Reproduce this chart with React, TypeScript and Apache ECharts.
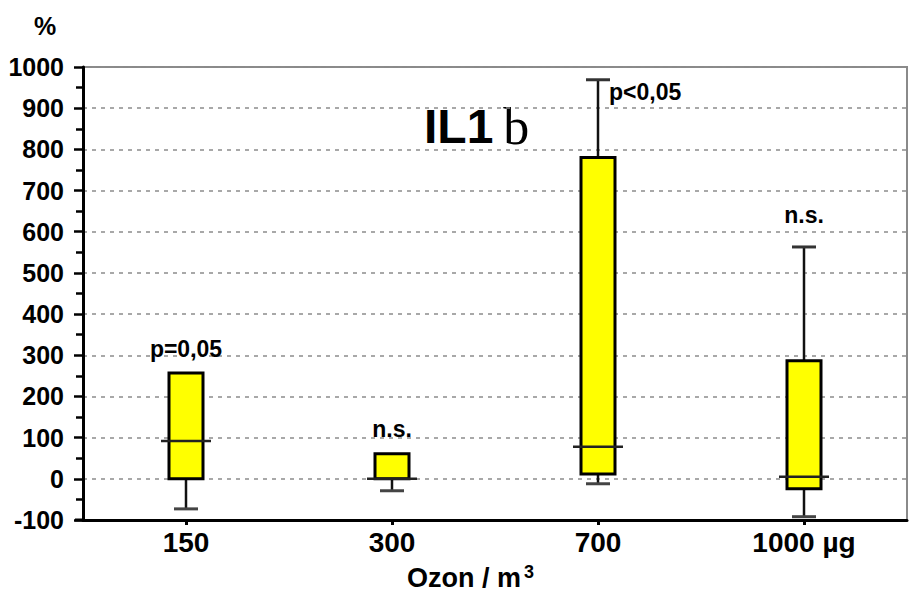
import React, { useEffect, useRef } from "react";
import * as echarts from "echarts";

const categories = ["150", "300", "700", "1000 µg"];
const whiskerLow = [-73, -29, -12, -92];
const boxLow = [0, 0, 12, -24];
const medians = [92, 0, 78, 5];
const boxHigh = [257, 61, 780, 287];
const whiskerHigh = [257, 61, 969, 563];
const annotations = ["p=0,05", "n.s.", "p<0,05", "n.s."];
const annotationY = [315, 120, 940, 640];
const yMin = -100;
const yMax = 1000;
const yStep = 100;

const SANS = "Liberation Sans";
const SERIF = "Liberation Serif";

export default function App() {
  const ref = useRef<HTMLDivElement>(null);
  useEffect(() => {
    if (!ref.current) return;
    const chart = echarts.init(ref.current, undefined, { renderer: "svg" });
    const data = categories.map((_, i) => [
      i,
      whiskerLow[i],
      boxLow[i],
      medians[i],
      boxHigh[i],
      whiskerHigh[i],
      annotationY[i],
    ]);
    chart.setOption({
      animation: false,
      backgroundColor: "#ffffff",
      grid: {
        left: 83,
        right: 2,
        top: 67,
        bottom: 74,
        show: true,
        borderColor: "#8a8a8a",
        borderWidth: 2,
        backgroundColor: "transparent",
      },
      xAxis: {
        type: "category",
        data: categories,
        boundaryGap: true,
        axisLine: { show: true, onZero: false, lineStyle: { color: "#000", width: 3 } },
        axisTick: { show: true, alignWithLabel: true, length: 5, lineStyle: { color: "#000", width: 3 } },
        axisLabel: {
          color: "#000",
          fontFamily: SANS,
          fontWeight: "bold",
          fontSize: 28,
          margin: 8,
        },
        splitLine: { show: false },
      },
      yAxis: {
        type: "value",
        min: yMin,
        max: yMax,
        interval: yStep,
        axisLine: { show: true, lineStyle: { color: "#000", width: 3 } },
        axisTick: { show: true, length: 9, lineStyle: { color: "#000", width: 2.5 } },
        minorTick: { show: true, splitNumber: 2, length: 7, lineStyle: { color: "#000", width: 2.5 } },
        axisLabel: {
          color: "#000",
          fontFamily: SANS,
          fontWeight: "bold",
          fontSize: 25,
          margin: 19,
          formatter: (v: number) => String(v),
        },
        splitLine: {
          show: true,
          lineStyle: { color: "#8c8c8c", width: 1.5, type: [4, 5] },
        },
      },
      series: [
        {
          type: "custom",
          data,
          encode: { x: 0, y: [1, 2, 3, 4, 5] },
          renderItem: (params: any, api: any) => {
            const idx = params.dataIndex;
            const cat = api.value(0);
            const x = api.coord([cat, 0])[0];
            const y = (v: number) => api.coord([cat, v])[1];
            const yWL = y(api.value(1));
            const yQ1 = y(api.value(2));
            const yMed = y(api.value(3));
            const yQ3 = y(api.value(4));
            const yWH = y(api.value(5));
            const labV = api.value(6);
            const yLab = y(labV);
            const bw = 34;
            const mw = 50;
            const cw = 24;
            const line = { stroke: "#111", lineWidth: 2.5 };
            const children: any[] = [];
            if (yWL > yQ1 + 0.5) {
              children.push({ type: "line", shape: { x1: x, y1: yQ1, x2: x, y2: yWL }, style: line });
              children.push({ type: "line", shape: { x1: x - cw / 2, y1: yWL, x2: x + cw / 2, y2: yWL }, style: { stroke: "#444", lineWidth: 3 } });
            }
            if (yWH < yQ3 - 0.5) {
              children.push({ type: "line", shape: { x1: x, y1: yQ3, x2: x, y2: yWH }, style: line });
              children.push({ type: "line", shape: { x1: x - cw / 2, y1: yWH, x2: x + cw / 2, y2: yWH }, style: { stroke: "#333", lineWidth: 3 } });
            }
            children.push({
              type: "rect",
              shape: { x: x - bw / 2, y: yQ3, width: bw, height: yQ1 - yQ3 },
              style: { fill: "#ffff00", stroke: "#000", lineWidth: 3 },
            });
            children.push({
              type: "line",
              shape: { x1: x - mw / 2, y1: yMed, x2: x + mw / 2, y2: yMed },
              style: { stroke: "#222", lineWidth: 2.5 },
            });
            const beside = labV < api.value(5);
            children.push({
              type: "text",
              x: beside ? x + 11 : x,
              y: yLab,
              style: {
                text: annotations[idx],
                fill: "#000",
                fontFamily: SANS,
                fontWeight: "bold",
                fontSize: 23,
                align: beside ? "left" : "center",
                verticalAlign: "middle",
              },
            });
            return { type: "group", children };
          },
          z: 5,
        },
      ],
      graphic: [
        {
          type: "line",
          shape: { x1: 75, y1: 520, x2: 84, y2: 520 },
          style: { stroke: "#000", lineWidth: 3 },
          z: 10,
        },
        {
          type: "text",
          left: 34,
          top: 13,
          style: { text: "%", fill: "#000", fontFamily: SANS, fontWeight: "bold", fontSize: 25 },
        },
        {
          type: "text",
          x: 424,
          y: 126,
          style: {
            text: "{a|IL1}{b|b}",
            verticalAlign: "middle",
            rich: {
              a: { fontFamily: SANS, fontWeight: "bold", fontSize: 48, fill: "#000" },
              b: { fontFamily: SERIF, fontWeight: "normal", fontSize: 52, fill: "#000", padding: [0, 0, 0, 10] },
            },
          },
        },
        {
          type: "text",
          x: 407,
          y: 577,
          style: {
            text: "{a|Ozon / m}{s|3}",
            verticalAlign: "middle",
            rich: {
              a: { fontFamily: SANS, fontWeight: "bold", fontSize: 27, fill: "#000", lineHeight: 28, verticalAlign: "bottom" },
              s: { fontFamily: SANS, fontWeight: "bold", fontSize: 18, fill: "#000", lineHeight: 28, verticalAlign: "top", padding: [0, 0, 0, 3] },
            },
          },
        },
      ],
    });
    return () => chart.dispose();
  }, []);
  return <div ref={ref} style={{ width: 909, height: 594, position: "absolute", left: 0, top: 0 }} />;
}
